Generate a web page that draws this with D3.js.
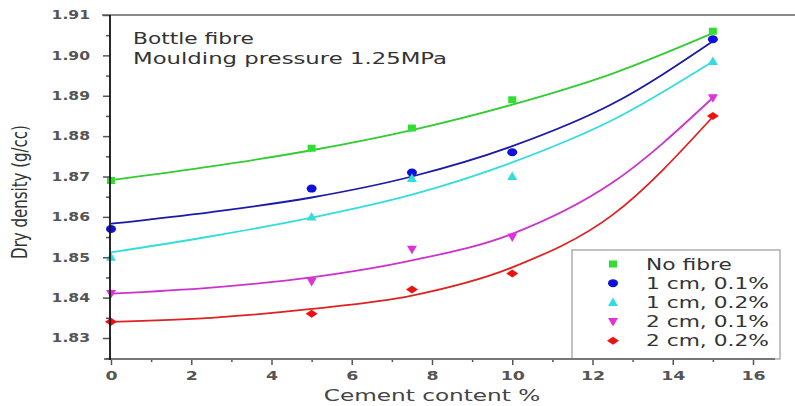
<!DOCTYPE html>
<html>
<head>
<meta charset="utf-8">
<script src="https://cdn.jsdelivr.net/npm/d3@7"></script>
<style>
  body { margin: 0; background: #fff; }
  text { font-family: "DejaVu Sans", Verdana, sans-serif; }
</style>
</head>
<body>
<svg width="795" height="406"></svg>
<script>
// measured dry density for each fibre mix
const cement = [0, 5, 7.5, 10, 15];
const noFibre = [1.869, 1.877, 1.882, 1.889, 1.906];
const cm1p1 = [1.857, 1.867, 1.871, 1.876, 1.904];
const cm1p2 = [1.850, 1.860, 1.8695, 1.870, 1.8985];
const cm2p1 = [1.841, 1.844, 1.852, 1.855, 1.8895];
const cm2p2 = [1.834, 1.836, 1.842, 1.846, 1.885];

// fitted trend curves, sampled along the cement axis
const fitX = [0, 2.5, 5, 7.5, 10, 12.5, 15];
const fitNoFibre = [1.8691, 1.8725, 1.8765, 1.8815, 1.8878, 1.8955, 1.9055];
const fitCm1p1 = [1.8583, 1.8612, 1.8648, 1.8700, 1.8775, 1.8880, 1.9035];
const fitCm1p2 = [1.8512, 1.8552, 1.8598, 1.8655, 1.8735, 1.8840, 1.8985];
const fitCm2p1 = [1.8410, 1.8425, 1.8450, 1.8492, 1.8558, 1.8685, 1.8895];
const fitCm2p2 = [1.8340, 1.8350, 1.8372, 1.8405, 1.8475, 1.8605, 1.8848];

const xTicks = [0, 2, 4, 6, 8, 10, 12, 14, 16];
const yTicks = [1.83, 1.84, 1.85, 1.86, 1.87, 1.88, 1.89, 1.90, 1.91];

const series = [
  { name: 'No fibre',    pts: noFibre, fit: fitNoFibre, color: '#33dd33', line: '#33cc33', shape: 'square' },
  { name: '1 cm, 0.1%',  pts: cm1p1,   fit: fitCm1p1,   color: '#1010dd', line: '#1a1aa8', shape: 'circle' },
  { name: '1 cm, 0.2%',  pts: cm1p2,   fit: fitCm1p2,   color: '#33dddd', line: '#33dddd', shape: 'up' },
  { name: '2 cm, 0.1%',  pts: cm2p1,   fit: fitCm2p1,   color: '#dd33dd', line: '#cc33cc', shape: 'down' },
  { name: '2 cm, 0.2%',  pts: cm2p2,   fit: fitCm2p2,   color: '#ee1111', line: '#dd2222', shape: 'diamond' }
];

// all lettering is drawn wide, stretched along x
const stretch = 1.45;

const svg = d3.select('svg');
const x = d3.scaleLinear().domain([0, 16]).range([111, 753]);
const y = d3.scaleLinear().domain([1.8248, 1.91]).range([359, 15]);

function wideText(parent, px, py, str, k = stretch) {
  return parent.append('text')
    .attr('transform', `translate(${px},${py}) scale(${k},1)`)
    .text(str);
}

// frame line across the top
svg.append('line').attr('x1', 102).attr('x2', 795).attr('y1', 15).attr('y2', 15)
  .attr('stroke', '#8a8a8a').attr('stroke-width', 2);

const line = d3.line()
  .x((d, i) => x(fitX[i]))
  .y(d => y(d))
  .curve(d3.curveMonotoneX);

series.forEach(s => {
  svg.append('path')
    .attr('d', line(s.fit))
    .attr('fill', 'none')
    .attr('stroke', s.line)
    .attr('stroke-width', 1.8);
});

function marker(g, shape, color) {
  if (shape === 'square') {
    g.append('rect').attr('x', -4).attr('y', -3.5).attr('width', 8).attr('height', 7).attr('fill', color);
  } else if (shape === 'circle') {
    g.append('ellipse').attr('rx', 5).attr('ry', 4).attr('fill', color);
  } else if (shape === 'up') {
    g.append('path').attr('d', 'M0,-5L5,3.5L-5,3.5Z').attr('fill', color);
  } else if (shape === 'down') {
    g.append('path').attr('d', 'M0,5L5,-3.5L-5,-3.5Z').attr('fill', color);
  } else {
    g.append('path').attr('d', 'M-6,0L0,-4L6,0L0,4Z').attr('fill', color);
  }
}

series.forEach(s => {
  svg.append('g').selectAll('g')
    .data(s.pts)
    .join('g')
      .attr('transform', (d, i) => `translate(${x(cement[i])},${y(d)})`)
      .each(function() { marker(d3.select(this), s.shape, s.color); });
});

// legend box
const legend = svg.append('g').attr('transform', 'translate(572,250)');
legend.append('rect').attr('width', 208).attr('height', 109)
  .attr('fill', '#fff').attr('stroke', '#999').attr('stroke-width', 1.2);
series.forEach((s, i) => {
  const row = legend.append('g').attr('transform', `translate(41,${14 + i * 19.2})`);
  marker(row.append('g'), s.shape, s.color);
  wideText(row, 33, 5.5, s.name).attr('font-size', 15).attr('fill', '#333');
});

// axes
const xAxis = svg.append('g').attr('transform', 'translate(0,359)')
  .call(d3.axisBottom(x).tickValues(xTicks).tickSize(6).tickPadding(6).tickFormat(d3.format('d')));
xAxis.select('.domain').remove();
xAxis.selectAll('.tick text').attr('transform', `scale(${stretch},1)`);
svg.append('g').attr('transform', 'translate(0,359)')
  .call(d3.axisBottom(x).tickValues(d3.range(1, 16, 2)).tickSize(3).tickFormat(''))
  .select('.domain').remove();
svg.append('line').attr('x1', 104).attr('x2', 775).attr('y1', 359).attr('y2', 359)
  .attr('stroke', '#777').attr('stroke-width', 2);

const yAxis = svg.append('g').attr('transform', 'translate(110,0)')
  .call(d3.axisLeft(y).tickValues(yTicks).tickSize(7).tickPadding(6).tickFormat(d3.format('.2f')));
yAxis.select('.domain').remove();
yAxis.selectAll('.tick text').attr('x', 0).attr('transform', `translate(-20,0) scale(1.3,1)`);
svg.append('g').attr('transform', 'translate(110,0)')
  .call(d3.axisLeft(y).tickValues(d3.range(1.825, 1.91, 0.01)).tickSize(4).tickFormat(''))
  .select('.domain').remove();
svg.append('line').attr('x1', 110).attr('x2', 110).attr('y1', 15).attr('y2', 360)
  .attr('stroke', '#111').attr('stroke-width', 1.8);

svg.selectAll('.tick line').attr('stroke', '#555').attr('stroke-width', 1.5);
svg.selectAll('.tick text')
  .attr('font-size', 12).attr('font-weight', 'bold').attr('fill', '#555')
  .style('font-family', '"DejaVu Sans", Verdana, sans-serif');

wideText(svg, 432, 401, 'Cement content %')
  .attr('text-anchor', 'middle').attr('font-size', 16).attr('fill', '#444');

svg.append('text')
  .attr('transform', `translate(27,192) rotate(-90) scale(1,${stretch})`)
  .attr('text-anchor', 'middle')
  .attr('font-size', 15).attr('fill', '#333')
  .text('Dry density (g/cc)');

// test conditions note
const note = svg.append('g').attr('font-size', 15).attr('fill', '#333');
wideText(note, 133, 44, 'Bottle fibre');
wideText(note, 133, 64, 'Moulding pressure 1.25MPa', 1.52);
</script>
</body>
</html>
